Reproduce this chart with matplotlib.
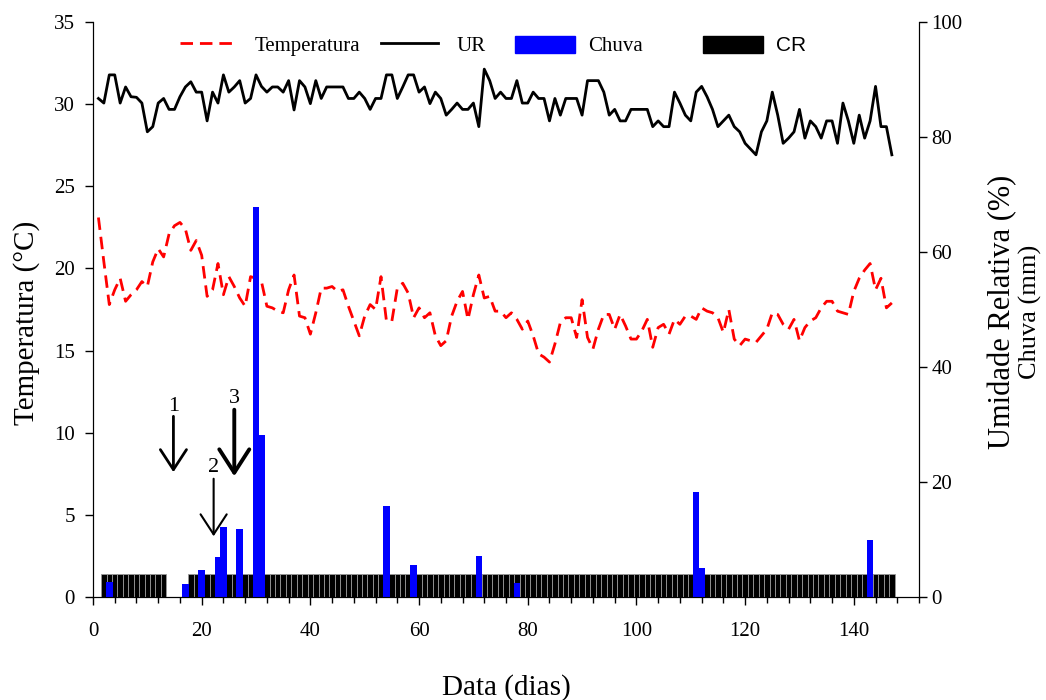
import matplotlib.pyplot as plt
from matplotlib.lines import Line2D
from matplotlib.patches import Patch
from matplotlib.ticker import MultipleLocator

plt.rcParams['font.family'] = ['Liberation Serif', 'DejaVu Serif']

dias = list(range(1, 148))

temperatura = [23.1, 20.4, 17.8, 18.7, 19.4, 18.0, 18.4, 18.7, 19.2, 18.9,
               20.4, 21.2, 20.7, 22.1, 22.6, 22.8, 22.4, 21.1, 21.7, 20.8,
               18.3, 18.7, 20.3, 18.4, 19.5, 18.9, 18.2, 17.7, 19.5, 19.4,
               19.2, 17.7, 17.6, 17.4, 17.3, 18.7, 19.6, 17.1, 17.0, 16.0,
               17.3, 18.8, 18.8, 18.9, 18.6, 18.7, 17.7, 16.8, 15.9, 17.1,
               17.8, 17.5, 19.5, 16.8, 16.8, 18.8, 19.1, 18.5, 17.0, 17.6,
               17.0, 17.3, 15.9, 15.3, 15.6, 17.1, 18.0, 18.6, 16.9, 18.4,
               19.6, 18.2, 18.3, 17.4, 17.4, 17.0, 17.3, 16.9, 16.3, 16.8,
               15.9, 14.8, 14.6, 14.3, 15.4, 16.7, 17.0, 17.0, 15.8, 18.1,
               15.8, 15.1, 16.3, 17.2, 17.2, 16.3, 17.2, 16.5, 15.7, 15.7,
               16.2, 16.9, 15.2, 16.4, 16.6, 16.0, 16.9, 16.6, 17.1, 17.1,
               16.9, 17.6, 17.4, 17.3, 17.0, 16.1, 17.5, 15.7, 15.3, 15.7,
               15.6, 15.5, 15.9, 16.3, 17.3, 17.2, 16.6, 16.3, 16.9, 15.6,
               16.4, 16.8, 17.0, 17.6, 18.0, 18.0, 17.4, 17.3, 17.2, 18.6,
               19.4, 19.9, 20.3, 18.7, 19.4, 17.6, 17.9]

ur = [86.7, 85.9, 90.8, 90.8, 85.9, 88.7, 87.0, 86.9, 85.9, 80.9,
      81.8, 85.9, 86.7, 84.8, 84.8, 87.0, 88.7, 89.6, 87.8, 87.8,
      82.8, 87.8, 85.9, 90.8, 87.8, 88.7, 89.8, 85.9, 86.7, 90.8,
      88.8, 87.8, 88.7, 88.7, 87.8, 89.8, 84.7, 89.8, 88.7, 85.8,
      89.8, 86.7, 88.7, 88.7, 88.7, 88.7, 86.7, 86.7, 87.8, 86.7,
      84.8, 86.7, 86.7, 90.8, 90.8, 86.7, 88.7, 90.8, 90.8, 87.8,
      88.7, 85.8, 87.8, 86.7, 83.8, 84.8, 85.9, 84.8, 84.8, 85.9,
      81.8, 91.8, 89.8, 86.7, 87.8, 86.7, 86.7, 89.8, 85.9, 85.9,
      87.8, 86.7, 86.7, 82.8, 86.7, 83.8, 86.7, 86.7, 86.7, 83.8,
      89.8, 89.8, 89.8, 87.8, 83.8, 84.8, 82.8, 82.8, 84.8, 84.8,
      84.8, 84.8, 81.8, 82.8, 81.8, 81.8, 87.8, 85.9, 83.8, 82.8,
      87.8, 88.8, 87.0, 84.8, 81.8, 82.8, 83.8, 81.8, 80.9, 78.9,
      77.9, 76.9, 80.9, 82.8, 87.8, 83.8, 78.9, 79.8, 80.9, 84.8,
      79.8, 82.8, 81.8, 79.8, 82.8, 82.8, 78.9, 85.9, 82.8, 78.9,
      83.8, 79.8, 82.8, 88.8, 81.8, 81.8, 76.9]

chuva_dias = [3, 17, 20, 23, 24, 27, 30, 31, 54, 59, 71, 78, 111, 112, 143]
chuva_mm = [2.7, 2.3, 4.7, 7.0, 12.2, 11.8, 67.9, 28.2, 15.8, 5.6, 7.1, 2.4,
            18.2, 5.0, 9.9]

cr_dias = list(range(2, 14)) + list(range(18, 148))
cr_val = [4.0] * len(cr_dias)

fig = plt.figure(figsize=(10.46, 7), dpi=100)
ax = fig.add_axes([0.0889, 0.1471, 0.7897, 0.8215])
ax2 = ax.twinx()

# barras no eixo da direita
ax2.bar(cr_dias, cr_val, width=1.0, color='black', edgecolor='#999999', linewidth=0.6)
ax2.bar(chuva_dias[::-1], chuva_mm[::-1], width=1.2, color='#0000ff', edgecolor='none')
ax2.plot(dias, ur, color='black', lw=2)

ax.plot(dias, temperatura, color='red', lw=2, dashes=(4.5, 2.5))

ax.set_xlim(0, 152)
ax.set_ylim(0, 35)
ax2.set_ylim(0, 100)
ax.xaxis.set_major_locator(MultipleLocator(20))
ax.xaxis.set_minor_locator(MultipleLocator(4))
ax.yaxis.set_major_locator(MultipleLocator(5))
ax2.yaxis.set_major_locator(MultipleLocator(20))

for a in (ax, ax2):
    a.spines['top'].set_visible(False)
    a.tick_params(axis='both', which='major', direction='out', length=6, width=1, labelsize=15)
    a.tick_params(axis='both', which='minor', direction='out', length=4, width=1)
ax.tick_params(axis='x', which='major', pad=12)
ax.tick_params(axis='y', which='major', pad=7)
ax2.tick_params(axis='y', which='major', pad=3)

ax.set_xlabel('Data (dias)', fontsize=21, labelpad=24)
ax.set_ylabel('Temperatura (°C)', fontsize=21)
ax.yaxis.set_label_coords(-0.064, 0.4765)
fig.text(1003 / 1046, 1 - 312 / 700, 'Umidade Relativa (%)', fontsize=22,
         rotation=90, ha='center', va='center')
fig.text(1030 / 1046, 1 - 312 / 700, 'Chuva (mm)', fontsize=19,
         rotation=90, ha='center', va='center')

# setas
ax.annotate('', xy=(14.8, 7.6), xytext=(14.8, 11.0),
            arrowprops=dict(arrowstyle='->, head_length=0.72, head_width=0.47',
                            lw=2, mutation_scale=20, color='black', shrinkA=0, shrinkB=0))
ax.text(14.8, 11.6, '1', ha='center', va='center', fontsize=16)
ax.annotate('', xy=(22.2, 3.7), xytext=(22.2, 7.2),
            arrowprops=dict(arrowstyle='->, head_length=0.72, head_width=0.47',
                            lw=1.5, mutation_scale=20, color='black', shrinkA=0, shrinkB=0))
ax.text(22.2, 7.9, '2', ha='center', va='center', fontsize=16)
ax.annotate('', xy=(26.0, 7.35), xytext=(26.0, 11.4),
            arrowprops=dict(arrowstyle='->, head_length=0.7, head_width=0.45',
                            lw=2.8, mutation_scale=24, color='black', shrinkA=0, shrinkB=0))
ax.text(26.0, 12.1, '3', ha='center', va='center', fontsize=16)

h1 = [Line2D([], [], color='red', lw=2, dashes=(4.5, 2.5)),
      Line2D([], [], color='black', lw=2)]
leg1 = ax2.legend(h1, ['Temperatura', 'UR'], ncol=2, frameon=False, fontsize=15,
                  loc='center left', bbox_to_anchor=(180 / 1046, 1 - 46 / 700),
                  bbox_transform=fig.transFigure, borderpad=0, borderaxespad=0,
                  handlelength=2.7, handletextpad=0.9, columnspacing=1.0)
ax2.add_artist(leg1)
h2 = [Patch(color='#0000ff'), Patch(color='black')]
leg2 = ax2.legend(h2, ['Chuva', 'CR'], ncol=2, frameon=False, fontsize=15,
                  loc='center left', bbox_to_anchor=(515 / 1046, 1 - 46 / 700),
                  bbox_transform=fig.transFigure, borderpad=0, borderaxespad=0,
                  handlelength=2.9, handleheight=0.9, handletextpad=0.6, columnspacing=2.9)
leg2.get_texts()[1].set_fontfamily('Liberation Sans')

fig.savefig('out.png', dpi=100)
